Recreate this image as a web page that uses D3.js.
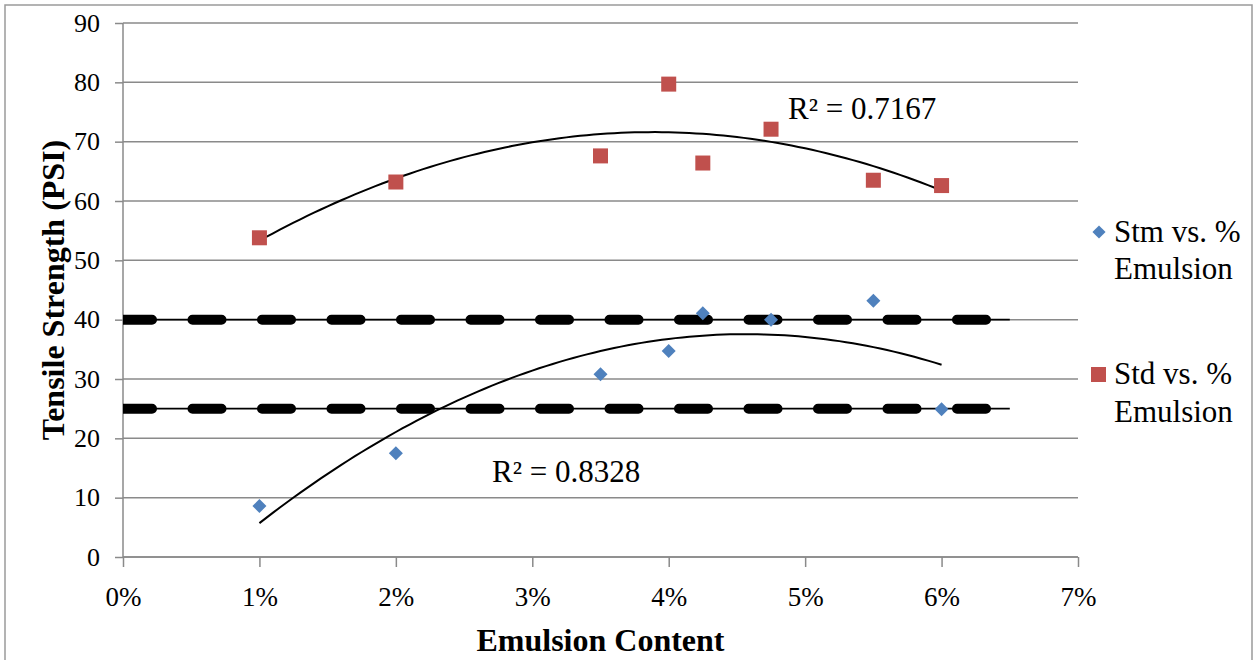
<!DOCTYPE html>
<html>
<head>
<meta charset="utf-8">
<script src="https://cdn.jsdelivr.net/npm/d3@7"></script>
<style>
  body { margin: 0; background: #fff; }
  svg text { font-family: "Liberation Serif", "Tinos", "Times New Roman", "DejaVu Serif"; fill: #000; }
</style>
</head>
<body>
<svg></svg>
<script>
// data
var emulsion = [0.01, 0.02, 0.035, 0.04, 0.0425, 0.0475, 0.055, 0.06];
var stmValues = [8.6, 17.5, 30.8, 34.7, 41.1, 40.0, 43.2, 24.9];
var stdValues = [53.8, 63.2, 67.6, 79.7, 66.4, 72.1, 63.5, 62.6];
var refLevels = [40, 25];
var refRange = [0, 0.065];
var yTicks = [0, 10, 20, 30, 40, 50, 60, 70, 80, 90];
var xTicks = [0, 0.01, 0.02, 0.03, 0.04, 0.05, 0.06, 0.07];
var r2Labels = ["R² = 0.8328", "R² = 0.7167"];
var seriesNames = [["Stm vs. %", "Emulsion"], ["Std vs. %", "Emulsion"]];

const width = 1254;
const height = 660;
const serif = "'Liberation Serif', Tinos, 'Times New Roman', 'DejaVu Serif'";
var margin = {top: 23, right: 176, bottom: 103, left: 123};

var svg = d3.select("svg")
    .attr("width", width)
    .attr("height", height)
    .style("font-family", serif);

// outer frame
svg.append("rect")
    .attr("x", 5).attr("y", 5)
    .attr("width", 1247).attr("height", 670)
    .attr("fill", "#fff")
    .attr("stroke", "#9a9a9a")
    .attr("stroke-width", 1.5);

var x = d3.scaleLinear()
    .domain([0, 0.07])
    .range([margin.left, width - margin.right]);

var y = d3.scaleLinear()
    .domain([0, 90])
    .range([height - margin.bottom, margin.top]);

// gridlines
svg.append("g")
    .selectAll("line")
    .data(yTicks)
    .enter()
    .append("line")
    .attr("x1", x(0)).attr("x2", x(0.07))
    .attr("y1", d => y(d)).attr("y2", d => y(d))
    .attr("stroke", "#8a8a8a")
    .attr("stroke-width", 1.5);

// axes
var yAxis = svg.append("g")
    .attr("transform", "translate(" + x(0) + ",0)")
    .call(d3.axisLeft(y).tickValues(yTicks).tickSize(8).tickPadding(15));

var xAxis = svg.append("g")
    .attr("transform", "translate(0," + y(0) + ")")
    .call(d3.axisBottom(x).tickValues(xTicks).tickFormat(d3.format(".0%")).tickSize(10).tickPadding(20));

[yAxis, xAxis].forEach(function(a) {
  a.attr("font-family", null).attr("font-size", null);
  a.selectAll("path, line").attr("stroke", "#8a8a8a").attr("stroke-width", 1.5);
  a.selectAll("text").style("font-family", serif).attr("fill", "#000");
});
yAxis.selectAll("text").style("font-size", "26px");
xAxis.selectAll("text").style("font-size", "27px");
yAxis.select(".domain").attr("d", "M0," + y(0) + "V" + y(90));
xAxis.select(".domain").attr("d", "M" + x(0) + ",0H" + x(0.07));

// clip for the reference lines
svg.append("clipPath").attr("id", "plot")
  .append("rect")
    .attr("x", x(0)).attr("y", y(90))
    .attr("width", x(0.07) - x(0)).attr("height", y(0) - y(90));

// reference lines at 40 and 25 (thin line + thick rounded dashes)
var refs = svg.append("g").attr("clip-path", "url(#plot)");
refLevels.forEach(function(lv) {
  refs.append("line")
      .attr("x1", x(refRange[0])).attr("x2", x(refRange[1]))
      .attr("y1", y(lv)).attr("y2", y(lv))
      .attr("stroke", "#000").attr("stroke-width", 1.8);
  refs.append("line")
      .attr("x1", x(refRange[0])).attr("x2", x(refRange[1]))
      .attr("y1", y(lv)).attr("y2", y(lv))
      .attr("stroke", "#000").attr("stroke-width", 10)
      .attr("stroke-linecap", "round")
      .attr("stroke-dasharray", "29,40.5");
});

// quadratic least squares trendline
function quadFit(xs, ys) {
  var n = xs.length, s = [0, 0, 0, 0, 0], t = [0, 0, 0];
  for (var i = 0; i < n; i++) {
    var xi = xs[i] * 100;
    for (var k = 0; k < 5; k++) s[k] += Math.pow(xi, k);
    for (var k = 0; k < 3; k++) t[k] += ys[i] * Math.pow(xi, k);
  }
  var A = [[s[0], s[1], s[2], t[0]], [s[1], s[2], s[3], t[1]], [s[2], s[3], s[4], t[2]]];
  for (var c = 0; c < 3; c++) {
    for (var r = c + 1; r < 3; r++) {
      var f = A[r][c] / A[c][c];
      for (var k = c; k < 4; k++) A[r][k] -= f * A[c][k];
    }
  }
  var b = [0, 0, 0];
  for (var r = 2; r >= 0; r--) {
    var v = A[r][3];
    for (var k = r + 1; k < 3; k++) v -= A[r][k] * b[k];
    b[r] = v / A[r][r];
  }
  return function(xv) { var p = xv * 100; return b[0] + b[1] * p + b[2] * p * p; };
}

var line = d3.line().x(d => x(d[0])).y(d => y(d[1]));
[stmValues, stdValues].forEach(function(vals) {
  var fit = quadFit(emulsion, vals);
  var pts = d3.range(0, 101).map(i => {
    var xv = d3.min(emulsion) + (d3.max(emulsion) - d3.min(emulsion)) * i / 100;
    return [xv, fit(xv)];
  });
  svg.append("path")
      .datum(pts)
      .attr("d", line)
      .attr("fill", "none")
      .attr("stroke", "#000")
      .attr("stroke-width", 2);
});

// markers
var diamond = d3.symbol().type(d3.symbolDiamond2).size(125);
svg.append("g")
    .selectAll("path")
    .data(emulsion)
    .enter()
    .append("path")
    .attr("d", diamond)
    .attr("transform", (d, i) => "translate(" + x(d) + "," + y(stmValues[i]) + ")")
    .attr("fill", "#4F81BD");

svg.append("g")
    .selectAll("rect")
    .data(emulsion)
    .enter()
    .append("rect")
    .attr("x", d => x(d) - 7.5)
    .attr("y", (d, i) => y(stdValues[i]) - 7.5)
    .attr("width", 15).attr("height", 15)
    .attr("fill", "#C0504D");

// R² labels
svg.append("text").attr("x", 492).attr("y", 482).style("font-size", "31px").text(r2Labels[0]);
svg.append("text").attr("x", 788).attr("y", 119).style("font-size", "31px").text(r2Labels[1]);

// axis titles
svg.append("text")
    .attr("x", (x(0) + x(0.07)) / 2)
    .attr("y", 651)
    .attr("text-anchor", "middle")
    .style("font-size", "32px").style("font-weight", "bold")
    .text("Emulsion Content");

svg.append("text")
    .attr("transform", "translate(64," + (y(0) + y(90)) / 2 + ") rotate(-90)")
    .attr("text-anchor", "middle")
    .style("font-size", "32px").style("font-weight", "bold")
    .text("Tensile Strength (PSI)");

// legend
var legend = svg.append("g");
legend.append("path")
    .attr("d", d3.symbol().type(d3.symbolDiamond2).size(110))
    .attr("transform", "translate(1099,232)")
    .attr("fill", "#4F81BD");
legend.append("rect")
    .attr("x", 1091).attr("y", 367).attr("width", 15).attr("height", 15)
    .attr("fill", "#C0504D");
[[242, 279], [384, 422]].forEach(function(ys, i) {
  legend.append("text").attr("x", 1114).attr("y", ys[0]).style("font-size", "31px").text(seriesNames[i][0]);
  legend.append("text").attr("x", 1114).attr("y", ys[1]).style("font-size", "31px").text(seriesNames[i][1]);
});
</script>
</body>
</html>
